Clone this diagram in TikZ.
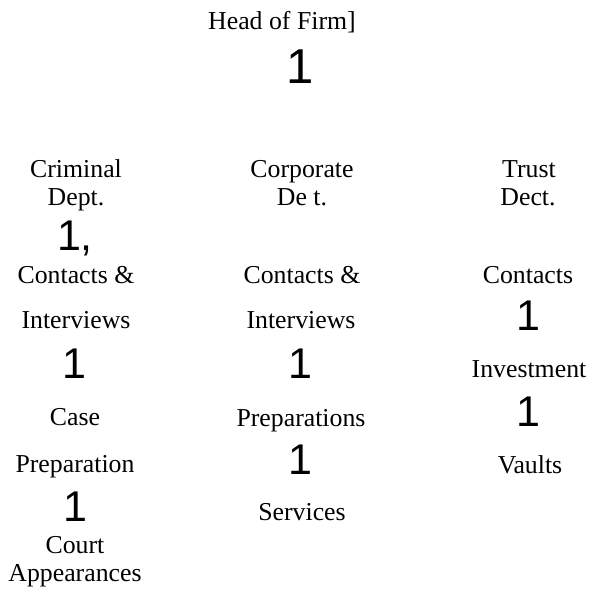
\documentclass[tikz,border=0pt]{standalone}
\usepackage{fontspec}
\setmainfont{Liberation Serif}
\newfontfamily\digitfont{Liberation Sans}
\begin{document}
\begin{tikzpicture}[x=1pt,y=-1pt,
  lbl/.style={anchor=base,inner sep=0pt,font=\fontsize{25.8}{30}\selectfont},
  num/.style={anchor=base,inner sep=0pt,font=\digitfont\fontsize{43}{48}\selectfont}]
\useasboundingbox (0,0) rectangle (592,589);
% head
\node[lbl] (head) at (282,30) {Head of Firm]};
\node[num,font=\digitfont\fontsize{49}{54}\selectfont] (headn) at (300,83) {1};
% criminal column
\node[lbl] (crim) at (76,177) {Criminal};
\node[lbl] (crimd) at (76,205) {Dept.};
\node[num] (crimn) at (75,250) {1,};
\node[lbl] (cci) at (76,283) {Contacts \&};
\node[lbl] (ccii) at (76,328) {Interviews};
\node[num] (ccn) at (74,378) {1};
\node[lbl] (ccase) at (75,425) {Case};
\node[lbl] (cprep) at (75,472) {Preparation};
\node[num] (cpn) at (75,521) {1};
\node[lbl] (ccourt) at (75,553) {Court};
\node[lbl] (capp) at (75,581) {Appearances};
% corporate column
\node[lbl] (corp) at (302,177) {Corporate};
\node[lbl] (corpd) at (302,205) {De t.};
\node[lbl] (pci) at (302,283) {Contacts \&};
\node[lbl] (pcii) at (301,328) {Interviews};
\node[num] (pcn) at (300,378) {1};
\node[lbl] (pprep) at (301,426) {Preparations};
\node[num] (ppn) at (300,474) {1};
\node[lbl] (pserv) at (302,520) {Services};
% trust column
\node[lbl] (trust) at (529,177) {Trust};
\node[lbl] (trustd) at (528,205) {Dect.};
\node[lbl] (tcon) at (528,283) {Contacts};
\node[num] (tcn) at (528,330) {1};
\node[lbl] (tinv) at (529,377) {Investment};
\node[num] (tin) at (528,426) {1};
\node[lbl] (tvault) at (530,473) {Vaults};
\end{tikzpicture}
\end{document}
